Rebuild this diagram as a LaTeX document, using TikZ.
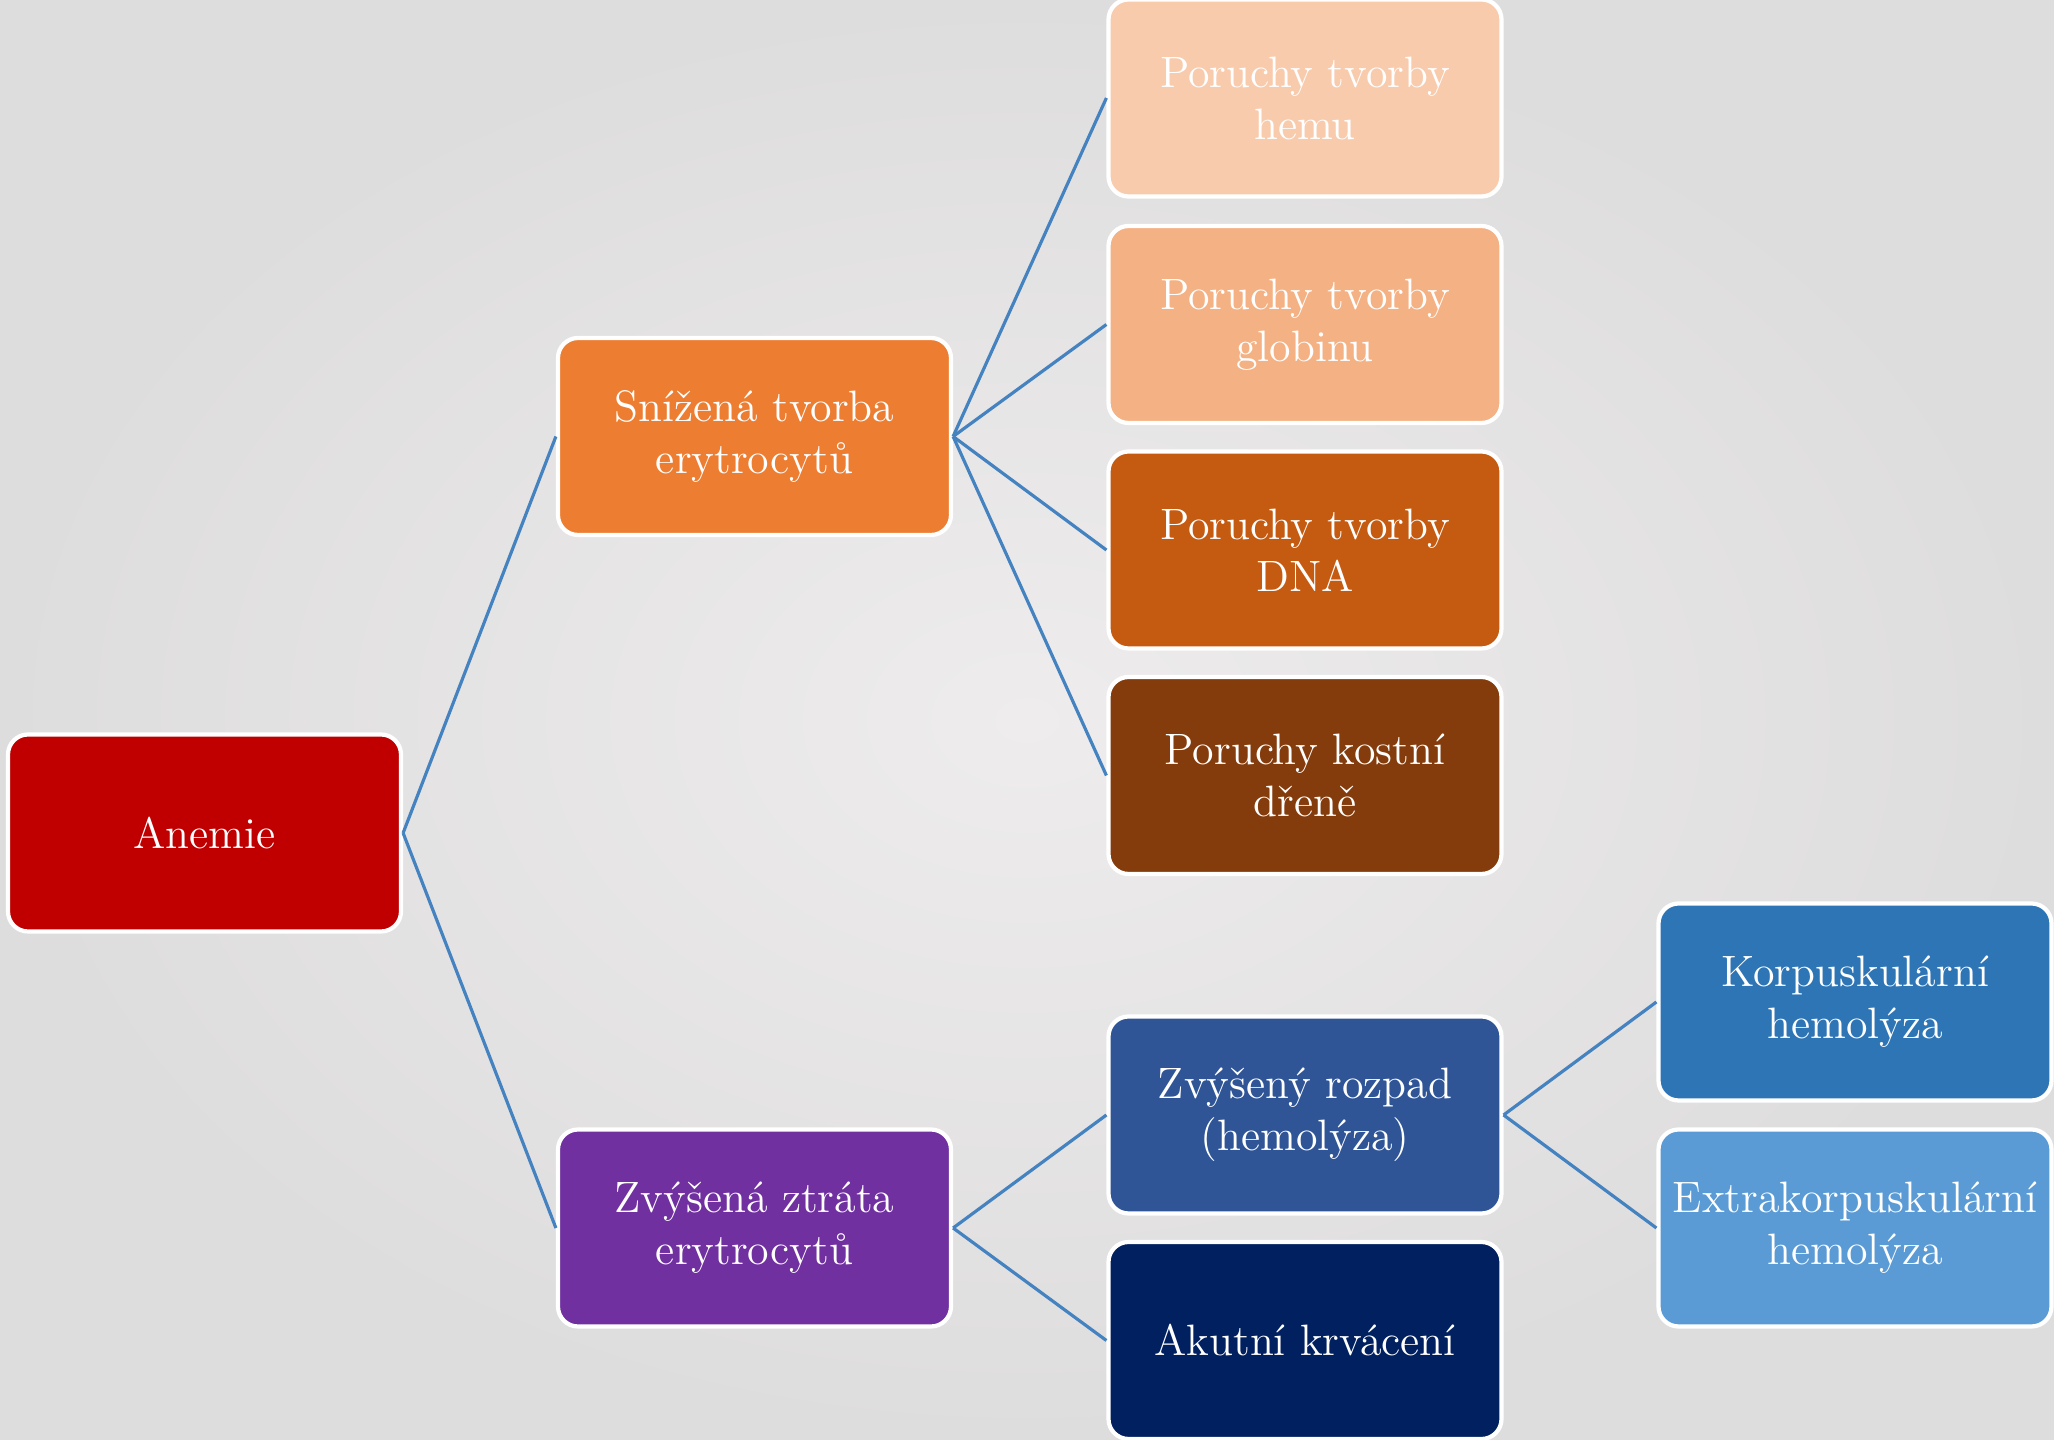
\documentclass[tikz,border=0pt]{standalone}
\usepackage{tikz}

\definecolor{bgin}{RGB}{238,236,237}
\definecolor{bgout}{RGB}{222,221,222}
\definecolor{linkblue}{RGB}{68,130,192}
\definecolor{anemred}{RGB}{192,0,0}
\definecolor{orangemain}{RGB}{237,125,49}
\definecolor{orangepale}{RGB}{248,203,173}
\definecolor{orangelight}{RGB}{244,177,131}
\definecolor{orangedark}{RGB}{197,90,17}
\definecolor{marrowbrown}{RGB}{132,60,12}
\definecolor{losspurple}{RGB}{112,48,160}
\definecolor{bluemid}{RGB}{47,85,151}
\definecolor{navyblue}{RGB}{0,32,96}
\definecolor{bluestrong}{RGB}{46,117,182}
\definecolor{bluelight}{RGB}{91,155,213}

\begin{document}
\begin{tikzpicture}[every node/.style={rectangle, rounded corners=0.2cm, draw=white, line width=1.2pt, minimum width=3.93cm, minimum height=1.97cm, inner sep=1pt, align=center, text=white, font=\fontsize{12.5}{14.8}\selectfont}, link/.style={linkblue, line width=0.9pt}]
        % background
        \useasboundingbox (0,0) rectangle (20.54,14.40);
        \shade[inner color=bgin, outer color=bgout, draw=none] (0,0) rectangle (20.54,14.40);

        \node[fill=anemred] (anemie) at (2.045, 6.07) {Anemie};

        \node[fill=orangemain] (tvorba) at (7.545, 10.035) {Snížená tvorba\\erytrocytů};
        \node[fill=losspurple] (ztrata) at (7.545, 2.12) {Zvýšená ztráta\\erytrocytů};

        \node[fill=orangepale] (hem) at (13.05, 13.42) {Poruchy tvorby\\hemu};
        \node[fill=orangelight] (globin) at (13.05, 11.155) {Poruchy tvorby\\globinu};
        \node[fill=orangedark] (dna) at (13.05, 8.90) {Poruchy tvorby\\DNA};
        \node[fill=marrowbrown] (dren) at (13.05, 6.645) {Poruchy kostní\\dřeně};
        \node[fill=bluemid] (rozpad) at (13.05, 3.25) {Zvýšený rozpad\\(hemolýza)};
        \node[fill=navyblue] (krvaceni) at (13.05, 0.995) {Akutní krvácení};

        \node[fill=bluestrong] (korpus) at (18.55, 4.38) {Korpuskulární\\hemolýza};
        \node[fill=bluelight] (extra) at (18.55, 2.12) {Extrakorpuskulární\\hemolýza};

        \draw[link] (anemie.east) -- (tvorba.west);
        \draw[link] (anemie.east) -- (ztrata.west);
        \draw[link] (tvorba.east) -- (hem.west);
        \draw[link] (tvorba.east) -- (globin.west);
        \draw[link] (tvorba.east) -- (dna.west);
        \draw[link] (tvorba.east) -- (dren.west);
        \draw[link] (ztrata.east) -- (rozpad.west);
        \draw[link] (ztrata.east) -- (krvaceni.west);
        \draw[link] (rozpad.east) -- (korpus.west);
        \draw[link] (rozpad.east) -- (extra.west);
    \end{tikzpicture}
\end{document}
